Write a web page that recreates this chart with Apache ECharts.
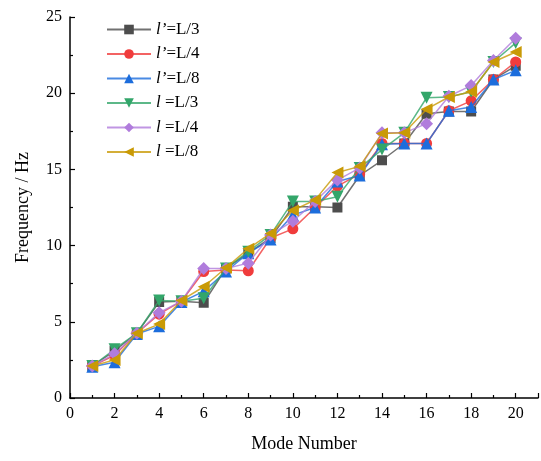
<!DOCTYPE html>
<html>
<head>
<meta charset="utf-8">
<script src="https://cdn.jsdelivr.net/npm/echarts@6/dist/echarts.min.js"></script>
<style>html,body{margin:0;padding:0;background:#fff;}#c{width:541px;height:461px;}</style>
</head>
<body>
<div id="c"></div>
<script>
var modes = [1,2,3,4,5,6,7,8,9,10,11,12,13,14,15,16,17,18,19,20];
var seriesNames = ['l’=L/3','l’=L/4','l’=L/8','l =L/3','l =L/4','l =L/8'];
var sqL3  = [2.1, 3.1, 4.25, 6.3, 6.35, 6.25, 8.5, 9.5, 10.5, 12.55, 12.55, 12.5, 14.6, 15.6, 16.7, 18.65, 18.8, 18.8, 20.9, 21.8];
var sqL4  = [2.1, 2.8, 4.25, 5.5, 6.35, 8.3, 8.4, 8.35, 10.5, 11.1, 12.5, 13.9, 14.7, 16.7, 16.7, 16.7, 18.85, 19.5, 20.9, 22.05];
var sqL8  = [2.05, 2.35, 4.2, 4.7, 6.3, 7.0, 8.3, 9.5, 10.4, 12.0, 12.5, 14.2, 14.6, 16.65, 16.7, 16.7, 18.85, 19.1, 20.9, 21.5];
var lL3   = [2.1, 3.2, 4.25, 6.4, 6.35, 6.55, 8.5, 9.6, 10.7, 12.9, 12.9, 13.2, 15.1, 16.3, 17.4, 19.7, 19.75, 20.1, 22.05, 23.3];
var lL4   = [2.1, 2.9, 4.25, 5.6, 6.35, 8.5, 8.5, 8.85, 10.7, 11.6, 12.9, 14.3, 15.1, 17.4, 17.4, 18.0, 19.8, 20.5, 22.15, 23.6];
var lL8   = [2.1, 2.5, 4.25, 4.85, 6.4, 7.3, 8.55, 9.8, 10.8, 12.3, 13.0, 14.8, 15.2, 17.35, 17.4, 18.95, 19.75, 20.1, 22.05, 22.7];
var xTicks = [0,2,4,6,8,10,12,14,16,18,20];
var yTicks = [0,5,10,15,20,25];

var allData = [sqL3, sqL4, sqL8, lL3, lL4, lL8];
var colors = ['#4d4d4d','#f03c3c','#1c6ddc','#33a66a','#b07cdc','#c99a06'];
var symbols = ['rect','circle','triangle','path://M0,0 L10,0 L5,9 Z','diamond','path://M0,5 L9,0 L9,10 Z'];
var sizes = [10,11,12,12,13,12];
var FONT = 'Liberation Serif';

var series = allData.map(function(arr, i){
  return {
    name: seriesNames[i],
    type: 'line',
    data: modes.map(function(m, k){ return [m, arr[k]]; }),
    symbol: symbols[i],
    symbolSize: sizes[i],
    showAllSymbol: true,
    itemStyle: {color: colors[i], opacity: 1},
    lineStyle: {color: colors[i], width: 1.5, opacity: 0.8},
    emphasis: {disabled: true},
    animation: false,
    z: 2 + i
  };
});

var chart = echarts.init(document.getElementById('c'), null, {renderer: 'canvas'});
chart.setOption({
  backgroundColor: '#fff',
  animation: false,
  textStyle: {fontFamily: FONT},
  grid: {left: 70, top: 17, width: 472, height: 381, containLabel: false},
  legend: {
    orient: 'vertical',
    left: 101,
    top: 16,
    itemWidth: 44,
    itemHeight: 12,
    itemGap: 7.5,
    data: seriesNames,
    textStyle: {fontFamily: FONT, fontSize: 17, color: '#000',
      rich: {
        i: {fontFamily: FONT, fontSize: 17, fontStyle: 'italic', color: '#000'},
        n: {fontFamily: FONT, fontSize: 17, color: '#000'}
      }
    },
    formatter: function(name){
      var idx = name.indexOf('=');
      return '{i|' + name.slice(0, idx) + '}{n|' + name.slice(idx) + '}';
    }
  },
  xAxis: {
    type: 'value', min: 0, max: 21, interval: 2,
    name: 'Mode Number', nameLocation: 'middle', nameGap: 37,
    nameTextStyle: {fontFamily: FONT, fontSize: 18, color: '#000'},
    axisLine: {show: true, onZero: false, lineStyle: {color: '#000', width: 1.5}},
    axisTick: {show: true, inside: true, length: 5, lineStyle: {color: '#000', width: 1.2}},
    minorTick: {show: true, splitNumber: 2, length: 3, lineStyle: {color: '#000', width: 1.2}},
    splitLine: {show: false},
    axisLabel: {fontFamily: FONT, fontSize: 16, color: '#000', margin: 8,
      formatter: function(v){ return xTicks.indexOf(v) >= 0 ? String(v) : ''; }}
  },
  yAxis: {
    type: 'value', min: 0, max: 25, interval: 5,
    name: 'Frequency / Hz', nameLocation: 'middle', nameGap: 38,
    nameTextStyle: {fontFamily: FONT, fontSize: 18, color: '#000'},
    axisLine: {show: true, onZero: false, lineStyle: {color: '#000', width: 1.5}},
    axisTick: {show: true, inside: true, length: 5, lineStyle: {color: '#000', width: 1.2}},
    minorTick: {show: true, splitNumber: 2, length: 3, lineStyle: {color: '#000', width: 1.2}},
    splitLine: {show: false},
    axisLabel: {fontFamily: FONT, fontSize: 16, color: '#000', margin: 8,
      formatter: function(v){ return yTicks.indexOf(v) >= 0 ? String(v) : ''; }}
  },
  series: series
});
</script>
</body>
</html>
